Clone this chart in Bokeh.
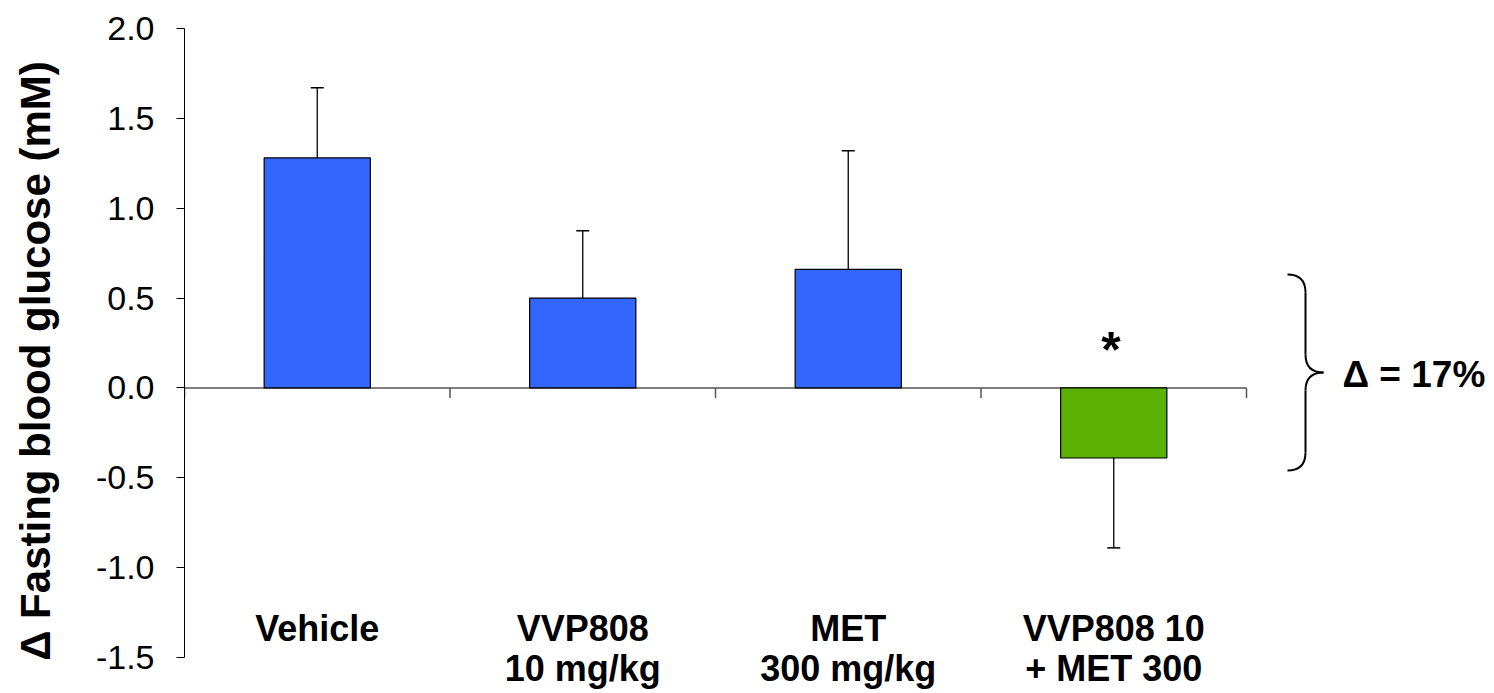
from bokeh.plotting import figure
from bokeh.models import (Range1d, FixedTicker, PrintfTickFormatter, Whisker,
                          ColumnDataSource, TeeHead)
from bokeh.embed import file_html
from bokeh.resources import INLINE
from bokeh.core.properties import value

# ---- data ----
categories = ["Vehicle", "VVP808\n10 mg/kg", "MET\n300 mg/kg", "VVP808 10\n+ MET 300"]
means = [1.28, 0.50, 0.66, -0.39]
sem = [0.39, 0.375, 0.66, 0.50]
bar_colors = ["#3366FF", "#3366FF", "#3366FF", "#5BB100"]
significance = ["", "", "", "*"]
y_ticks = [-1.5, -1.0, -0.5, 0.0, 0.5, 1.0, 1.5, 2.0]
y_title = "Δ Fasting blood glucose (mM)"
delta_text = "Δ = 17%"

# ---- layout (pixels) ----
W, H = 1494, 693
FRAME_L, CAT_R = 184, 1246
Y_TOP_PX, Y_BOT_PX = 28, 657
n = len(categories)
ppx = (CAT_R - FRAME_L) / n
ppy = (Y_BOT_PX - Y_TOP_PX) / (y_ticks[-1] - y_ticks[0])
x_end = (W - FRAME_L) / ppx
y_start = y_ticks[-1] - (H - Y_TOP_PX) / ppy


def px2x(px):
    return (px - FRAME_L) / ppx


def px2y(py):
    return y_ticks[-1] - (py - Y_TOP_PX) / ppy


FONT = "Liberation Sans"

p = figure(width=W, height=H, x_range=Range1d(0, x_end),
           y_range=Range1d(y_start, y_ticks[-1]),
           x_axis_location=None, toolbar_location=None, output_backend="svg",
           min_border_left=FRAME_L, min_border_top=Y_TOP_PX,
           min_border_bottom=0, min_border_right=0)
p.outline_line_color = None
p.xgrid.visible = False
p.ygrid.visible = False
p.background_fill_color = "white"
p.border_fill_color = "white"

# y axis
ya = p.yaxis[0]
ya.bounds = (y_ticks[0], y_ticks[-1])
ya.ticker = FixedTicker(ticks=y_ticks)
ya.formatter = PrintfTickFormatter(format="%.1f")
ya.major_label_text_font = FONT
ya.major_label_text_font_size = "34px"
ya.major_label_text_color = "black"
ya.major_label_standoff = 22
ya.major_tick_out = 8
ya.major_tick_in = 0
ya.minor_tick_out = 0
ya.minor_tick_in = 0
ya.axis_line_color = "black"
ya.major_tick_line_color = "black"
ya.axis_label = y_title
ya.axis_label_text_font = FONT
ya.axis_label_text_font_style = "bold"
ya.axis_label_text_font_size = "42px"
ya.axis_label_text_color = "black"
ya.axis_label_standoff = 34

xs = [i + 0.5 for i in range(n)]

# zero line and category tick marks
tick_len = 10 / ppy
p.segment(x0=[0], y0=[0], x1=[n], y1=[0], line_color="#555555", line_width=1.5)
p.segment(x0=list(range(n + 1)), y0=[0] * (n + 1), x1=list(range(n + 1)),
          y1=[-tick_len] * (n + 1), line_color="#555555", line_width=1.5)

# bars
src = ColumnDataSource(dict(x=xs, top=means, color=bar_colors))
p.vbar(x="x", top="top", bottom=0, width=0.4, source=src,
       fill_color="color", line_color="black", line_width=1.2)

# error bars (one-sided, away from zero)
up = [i for i in range(n) if means[i] >= 0]
dn = [i for i in range(n) if means[i] < 0]
src_up = ColumnDataSource(dict(x=[xs[i] for i in up],
                               lower=[means[i] for i in up],
                               upper=[means[i] + sem[i] for i in up]))
src_dn = ColumnDataSource(dict(x=[xs[i] for i in dn],
                               lower=[means[i] - sem[i] for i in dn],
                               upper=[means[i] for i in dn]))
p.add_layout(Whisker(source=src_up, base="x", lower="lower", upper="upper",
                     dimension="height", line_color="black", line_width=1.3,
                     upper_head=TeeHead(size=13, line_color="black", line_width=1.5),
                     lower_head=None, level="glyph"))
p.add_layout(Whisker(source=src_dn, base="x", lower="lower", upper="upper",
                     dimension="height", line_color="black", line_width=1.3,
                     lower_head=TeeHead(size=13, line_color="black", line_width=1.5),
                     upper_head=None, level="glyph"))

# significance star
star_idx = [i for i in range(n) if significance[i]]
p.text(x=[xs[i] - 0.01 for i in star_idx], y=[px2y(349)] * len(star_idx),
       text=[significance[i] for i in star_idx],
       text_align="center", text_baseline="middle",
       text_font=value(FONT), text_font_style="bold", text_font_size="50px",
       text_color="black")

# category labels
p.text(x=xs, y=[px2y(607)] * n, text=categories, text_align="center",
       text_baseline="top", text_font=value(FONT), text_font_style="bold",
       text_font_size="36px", text_color="black", text_line_height=0.98)

# brace
bx0, bx1, bx2 = 1287, 1305, 1323
by_top, by_mid, by_bot = 274, 372, 470
r = 18
qx0 = [bx0, bx1, bx2, bx1]
qy0 = [by_top, by_mid - r, by_mid, by_bot - r]
qx1 = [bx1, bx2, bx1, bx0]
qy1 = [by_top + r, by_mid, by_mid + r, by_bot]
qcx = [bx1, bx1, bx1, bx1]
qcy = [by_top, by_mid, by_mid, by_bot]
p.quadratic(x0=[px2x(v) for v in qx0], y0=[px2y(v) for v in qy0],
            x1=[px2x(v) for v in qx1], y1=[px2y(v) for v in qy1],
            cx=[px2x(v) for v in qcx], cy=[px2y(v) for v in qcy],
            line_color="black", line_width=2)
p.segment(x0=[px2x(bx1)] * 2, y0=[px2y(by_top + r), px2y(by_mid + r)],
          x1=[px2x(bx1)] * 2, y1=[px2y(by_mid - r), px2y(by_bot - r)],
          line_color="black", line_width=2)

p.text(x=[px2x(1342)], y=[px2y(374)], text=[delta_text], text_align="left",
       text_baseline="middle", text_font=value(FONT), text_font_style="bold",
       text_font_size="37px", text_color="black")

open("out.html", "w").write(file_html(p, INLINE))
